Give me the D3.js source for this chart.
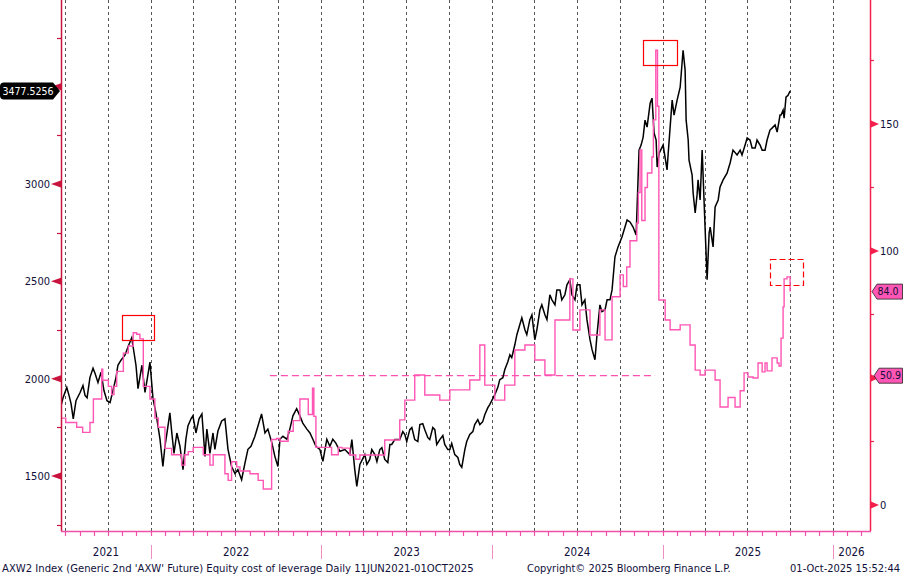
<!DOCTYPE html>
<html><head><meta charset="utf-8">
<script src="https://cdn.jsdelivr.net/npm/d3@7/dist/d3.min.js"></script>
<style>body{margin:0;background:#fff}svg{display:block}</style>
</head><body>
<svg id="chart" width="903" height="576"></svg>
<script>
// ---- data (dates as decimal years) ----
const priceDates = [2021.472,2021.484,2021.506,2021.519,2021.531,2021.544,2021.560,2021.584,2021.601,2021.613,2021.625,2021.642,2021.660,2021.672,2021.689,2021.707,2021.724,2021.742,2021.760,2021.777,2021.795,2021.806,2021.824,2021.848,2021.865,2021.887,2021.900,2021.912,2021.924,2021.935,2021.947,2021.965,2021.977,2021.994,
2022.012,2022.029,2022.041,2022.053,2022.070,2022.082,2022.094,2022.111,2022.123,2022.135,2022.152,2022.170,2022.188,2022.205,2022.217,2022.235,2022.246,2022.264,2022.282,2022.299,2022.317,2022.328,2022.346,2022.364,2022.375,2022.393,2022.415,2022.434,2022.452,2022.473,2022.493,2022.510,2022.532,2022.551,2022.569,2022.587,2022.610,2022.628,2022.649,2022.669,2022.686,2022.710,2022.727,2022.745,2022.757,2022.774,2022.798,2022.815,2022.833,2022.855,2022.874,2022.891,2022.915,2022.933,2022.950,2022.968,2022.991,
2023.009,2023.032,2023.050,2023.067,2023.085,2023.109,2023.138,2023.167,2023.179,2023.196,2023.208,2023.226,2023.255,2023.267,2023.284,2023.296,2023.314,2023.326,2023.343,2023.355,2023.372,2023.390,2023.402,2023.413,2023.431,2023.460,2023.478,2023.490,2023.501,2023.519,2023.531,2023.548,2023.566,2023.578,2023.595,2023.607,2023.625,2023.636,2023.654,2023.666,2023.677,2023.695,2023.713,2023.724,2023.742,2023.754,2023.765,2023.783,2023.801,2023.812,2023.824,2023.842,2023.853,2023.871,2023.889,2023.900,2023.918,2023.930,2023.947,2023.959,2023.977,2023.988,
2024.018,2024.035,2024.047,2024.065,2024.076,2024.094,2024.106,2024.117,2024.135,2024.147,2024.164,2024.176,2024.194,2024.205,2024.223,2024.235,2024.252,2024.264,2024.282,2024.293,2024.311,2024.323,2024.340,2024.352,2024.370,2024.381,2024.399,2024.410,2024.428,2024.440,2024.457,2024.469,2024.487,2024.499,2024.516,2024.528,2024.545,2024.557,2024.575,2024.587,2024.604,2024.616,2024.633,2024.645,2024.663,2024.675,2024.692,2024.704,2024.721,2024.739,2024.762,2024.792,2024.809,2024.827,2024.845,2024.862,2024.874,2024.886,2024.897,2024.909,2024.927,2024.938,2024.950,2024.962,2024.968,2024.980,
2025.003,2025.026,2025.032,2025.044,2025.056,2025.067,2025.085,2025.103,2025.114,2025.120,2025.132,2025.138,2025.150,2025.155,2025.173,2025.179,2025.191,2025.202,2025.208,2025.220,2025.232,2025.243,2025.249,2025.261,2025.273,2025.279,2025.290,2025.296,2025.308,2025.326,2025.337,2025.355,2025.378,2025.396,2025.413,2025.437,2025.455,2025.466,2025.484,2025.496,2025.513,2025.525,2025.543,2025.554,2025.572,2025.584,2025.601,2025.613,2025.630,2025.642,2025.660,2025.672,2025.689,2025.695,2025.707,2025.713,2025.724,2025.736,2025.748];
const priceValues = [1861,1902,1955,1914,1872,1794,1887,1929,1965,1914,1902,2007,2054,2027,1981,2033,1939,1887,1877,1939,2007,2069,2095,2122,2163,2210,2137,2069,1949,2007,2069,1929,1992,2085,
1897,1824,1757,1689,1549,1653,1721,1824,1716,1616,1721,1653,1533,1689,1757,1794,1809,1721,1794,1819,1601,1741,1616,1721,1637,1731,1783,1794,1637,1549,1513,1533,1481,1564,1637,1653,1704,1757,1819,1721,1741,1669,1601,1549,1689,1704,1689,1741,1809,1846,1809,1772,1741,1721,1689,1653,1637,
1575,1689,1653,1689,1669,1627,1636,1610,1687,1533,1446,1559,1610,1559,1585,1636,1610,1574,1636,1646,1585,1569,1662,1662,1687,1687,1728,1713,1677,1738,1749,1687,1677,1764,1769,1738,1697,1687,1749,1738,1662,1687,1708,1662,1636,1636,1667,1610,1595,1559,1544,1636,1677,1713,1728,1764,1790,1764,1779,1815,1851,1867,
1918,1954,1995,2005,2046,2087,2123,2108,2174,2226,2277,2313,2251,2226,2303,2328,2200,2251,2354,2379,2328,2303,2431,2405,2379,2456,2456,2405,2431,2482,2508,2431,2405,2482,2482,2379,2405,2303,2200,2149,2097,2226,2379,2344,2354,2405,2405,2456,2626,2677,2728,2815,2805,2779,2738,3174,3200,3241,3328,3292,3415,3441,3262,3226,3087,3159,
3200,3072,3149,3292,3431,3354,3431,3497,3620,3687,3585,3328,3226,3123,3046,2954,2851,2944,3021,2918,3174,2918,2779,2508,2749,2779,2713,2677,2882,2918,2985,3021,3056,3108,3174,3149,3174,3149,3200,3236,3226,3185,3185,3226,3200,3174,3174,3226,3277,3287,3303,3267,3354,3354,3379,3338,3446,3456,3477.5256];

const costDates = [2021.472,2021.500,2021.564,2021.599,2021.642,2021.662,2021.711,2021.717,2021.750,2021.769,2021.783,2021.799,2021.838,2021.867,2021.896,2021.916,2021.935,2021.955,2021.994,
2022.023,2022.043,2022.082,2022.121,2022.180,2022.199,2022.219,2022.248,2022.307,2022.346,2022.365,2022.434,2022.453,2022.473,2022.503,2022.522,2022.581,2022.629,2022.659,2022.708,2022.737,2022.757,2022.805,2022.835,2022.874,2022.923,2022.948,2022.956,2022.968,
2023.060,2023.099,2023.120,2023.167,2023.202,2023.226,2023.372,2023.460,2023.490,2023.548,2023.607,2023.695,2023.754,2023.871,2023.930,2023.959,
2024.018,2024.076,2024.135,2024.194,2024.252,2024.311,2024.370,2024.457,2024.475,2024.516,2024.575,2024.633,2024.663,2024.704,2024.751,2024.770,2024.790,2024.809,2024.849,2024.858,2024.868,2024.878,2024.897,2024.911,2024.937,2024.946,2024.960,2024.970,2024.978,
2025.015,2025.044,2025.103,2025.161,2025.191,2025.220,2025.249,2025.308,2025.337,2025.384,2025.425,2025.455,2025.478,2025.501,2025.531,2025.560,2025.584,2025.601,2025.613,2025.642,2025.672,2025.683,2025.695,2025.707,2025.713,2025.730,2025.748];
const costValues = [34.2,32.5,30.6,28.6,32.5,41.7,53.5,49.1,46.7,43.5,46.7,52.6,59.8,62.6,67.8,67.2,65.4,46.7,41.7,
34.2,30.6,22.3,19.8,15.7,19.8,21.0,22.7,19.8,15.7,19.8,12.3,9.7,17.0,15.0,13.4,12.3,9.7,6.3,25.8,26.2,25.1,29.0,33.2,41.7,35.6,46.0,34.9,22.7,
19.8,22.7,22.4,19.7,18.0,19.7,25.6,33.5,41.3,51.2,43.3,41.3,45.3,49.2,63.0,47.2,
41.3,47.2,61.0,63.0,57.1,51.2,72.8,89.0,68.9,76.8,66.9,76.8,65.0,82.0,90.6,86.0,93.7,104.0,111.0,123.0,139.8,112.0,125.0,130.7,137.0,151.6,179.0,157.0,80.7,
72.8,69.0,70.9,63.0,53.1,51.2,53.1,49.2,38.6,42.3,38.6,45.0,52.0,50.4,50.0,55.9,52.4,55.9,52.8,57.9,55.9,54.7,65.7,78.0,89.0,89.8,84.0];

const leftTickValues = [1500,2000,2500,3000,3500];
const leftMinorValues = [1250,1750,2250,2750,3250,3750];
const rightTickValues = [0,50,100,150];
const rightTickLabels = ["0","","100","150"];   // the 50 label sits under the 50.9 marker
const rightMinorValues = [25,75,125,175];
const yearLabels = ["2021","2022","2023","2024","2025","2026"];
const lastPrice = 3477.5256, lastPriceText = "3477.5256";
const lastCost = 84.0, lastCostText = "84.0";
const refLevel = 50.9, refLevelText = "50.9";
const refSpan = [2022.698, 2024.956];
const boxStarts = [2021.830, 2024.886, 2025.630];
const boxEnds   = [2022.018, 2025.085, 2025.824];
const boxTops   = [74.8, 183.1, 96.9];
const boxBottoms= [65.0, 173.2, 86.6];
const boxDashed = [false, false, true];
const footerLeft = "AXW2 Index (Generic 2nd 'AXW' Future) Equity cost of leverage Daily 11JUN2021-01OCT2025";
const footerMid = "Copyright\u00A9 2025 Bloomberg Finance L.P.";
const footerRight = "01-Oct-2025 15:52:44";

// ---- helpers ----
function toDate(t){const y=Math.floor(t);const s=Date.UTC(y,0,1),e=Date.UTC(y+1,0,1);return new Date(s+(t-y)*(e-s));}

const L=61, R=870, T=0, B=531;
const svg=d3.select("#chart");
const x=d3.scaleUtc().domain([toDate(2021.472),toDate(2026.217)]).range([L,R]);
const yL=d3.scaleLinear().domain([1217.5,3945.2]).range([B,T]);
const yR=d3.scaleLinear().domain([-10.24,198.8]).range([B,T]);
const font="'DejaVu Sans Condensed','DejaVu Sans',sans-serif";
const txtCol="#10103a";

// quarterly dotted grid
const quarters=d3.utcMonth.every(3).range(toDate(2021.472),toDate(2026.217));
svg.append("g").selectAll("line").data(quarters).join("line")
  .attr("x1",d=>Math.round(x(d))+0.5).attr("x2",d=>Math.round(x(d))+0.5)
  .attr("y1",T).attr("y2",B).attr("stroke","#555").attr("stroke-width",1).attr("stroke-dasharray","3,3");

// clip
svg.append("clipPath").attr("id","clip").append("rect").attr("x",L).attr("y",T).attr("width",R-L).attr("height",B-T);
const plot=svg.append("g").attr("clip-path","url(#clip)");

// reference dashed line
plot.append("line").attr("x1",x(toDate(refSpan[0]))).attr("x2",x(toDate(refSpan[1])))
  .attr("y1",yR(refLevel)).attr("y2",yR(refLevel)).attr("stroke","#ff4fb0").attr("stroke-width",1.2).attr("stroke-dasharray","7,4");

// price line
const priceData=priceDates.map((d,i)=>({d:toDate(d),v:priceValues[i]})).sort((a,b)=>a.d-b.d);
plot.append("path").datum(priceData).attr("fill","none").attr("stroke","#000").attr("stroke-width",1.5)
  .attr("d",d3.line().x(p=>x(p.d)).y(p=>yL(p.v)));

// cost step line
const costData=costDates.map((d,i)=>({d:toDate(d),v:costValues[i]})).sort((a,b)=>a.d-b.d);
plot.append("path").datum(costData).attr("fill","none").attr("stroke","#ff55b4").attr("stroke-width",1.4)
  .attr("d",d3.line().curve(d3.curveStepAfter).x(p=>x(p.d)).y(p=>yR(p.v)));

// annotation boxes
boxStarts.forEach((s,i)=>{
  const x0=x(toDate(s)),x1=x(toDate(boxEnds[i])),y0=yR(boxTops[i]),y1=yR(boxBottoms[i]);
  svg.append("rect").attr("x",Math.round(x0)+0.5).attr("y",Math.round(y0)+0.5)
    .attr("width",Math.round(x1-x0)).attr("height",Math.round(y1-y0))
    .attr("fill","none").attr("stroke","#f00").attr("stroke-width",1.2)
    .attr("stroke-dasharray",boxDashed[i]?"6,3":null);
});

// left axis
svg.append("line").attr("x1",L+0.5).attr("x2",L+0.5).attr("y1",T).attr("y2",B).attr("stroke","#c8143c").attr("stroke-width",1.5);
svg.append("g").selectAll("line").data(leftMinorValues).join("line")
  .attr("x1",L-4).attr("x2",L).attr("y1",d=>Math.round(yL(d))+0.5).attr("y2",d=>Math.round(yL(d))+0.5)
  .attr("stroke","#c8143c").attr("stroke-width",1.2);
svg.append("g").selectAll("path").data(leftTickValues).join("path")
  .attr("d",d=>{const y=yL(d);return `M${L-10},${y} L${L},${y-3.5} L${L},${y+3.5} Z`;}).attr("fill","#c8143c");
svg.append("g").selectAll("text").data(leftTickValues).join("text")
  .attr("x",L-11).attr("y",d=>yL(d)).attr("dy","0.35em").attr("text-anchor","end")
  .attr("font-family",font).attr("font-size",11).attr("fill",txtCol).text(d=>d);

// right axis
svg.append("line").attr("x1",R+0.5).attr("x2",R+0.5).attr("y1",T).attr("y2",B).attr("stroke","#f4204c").attr("stroke-width",1.5);
svg.append("g").selectAll("line").data(rightMinorValues).join("line")
  .attr("x1",R).attr("x2",R+4).attr("y1",d=>Math.round(yR(d))+0.5).attr("y2",d=>Math.round(yR(d))+0.5)
  .attr("stroke","#f4204c").attr("stroke-width",1.2);
svg.append("g").selectAll("path").data(rightTickValues).join("path")
  .attr("d",d=>{const y=yR(d);return `M${R+9},${y} L${R+1},${y-3.5} L${R+1},${y+3.5} Z`;}).attr("fill","#f4204c");
svg.append("g").selectAll("text").data(rightTickValues).join("text")
  .attr("x",R+10).attr("y",d=>yR(d)).attr("dy","0.35em")
  .attr("font-family",font).attr("font-size",11).attr("fill",txtCol).text((d,i)=>rightTickLabels[i]);

// bottom axis
svg.append("line").attr("x1",L).attr("x2",R+1).attr("y1",B+0.5).attr("y2",B+0.5).attr("stroke","#f050a8").attr("stroke-width",1.6);
const months=d3.utcMonth.range(toDate(2021.472),toDate(2026.217));
svg.append("g").selectAll("line").data(months).join("line")
  .attr("x1",d=>Math.round(x(d))+0.5).attr("x2",d=>Math.round(x(d))+0.5).attr("y1",B).attr("y2",B+5)
  .attr("stroke","#f050a8").attr("stroke-width",1.2);
const yearStarts=yearLabels.map(y=>new Date(Date.UTC(+y,0,1)));
svg.append("g").selectAll("line").data(yearStarts.slice(1)).join("line")
  .attr("x1",d=>Math.round(x(d))+0.5).attr("x2",d=>Math.round(x(d))+0.5).attr("y1",545).attr("y2",559)
  .attr("stroke","#f48cc4").attr("stroke-width",1);
const [d0,d1]=x.domain();
svg.append("g").selectAll("text").data(yearLabels).join("text")
  .attr("x",(y,i)=>{const a=new Date(Math.max(+d0,+yearStarts[i]));const b=new Date(Math.min(+d1,Date.UTC(+y+1,0,1)));return (x(a)+x(b))/2;})
  .attr("y",552).attr("dy","0.35em").attr("text-anchor","middle")
  .attr("font-family",font).attr("font-size",11.5).attr("fill",txtCol).text(d=>d);

// last value labels
{
  const y=yL(lastPrice);
  svg.append("path").attr("d",`M4,${y-8.5} H53 L60,${y} L53,${y+8.5} H4 Q0,${y+8.5} 0,${y+4.5} V${y-4.5} Q0,${y-8.5} 4,${y-8.5} Z`).attr("fill","#000");
  svg.append("text").attr("x",2.5).attr("y",y).attr("dy","0.36em").attr("font-family",font).attr("font-size",10.5).attr("fill","#fff").text(lastPriceText);
}
{
  const y=yR(lastCost);
  svg.append("path").attr("d",`M${R+2},${y} L${R+7},${y-7.5} H902.5 V${y+7.5} H${R+7} Z`).attr("fill","#ff55b4").attr("stroke","#222").attr("stroke-width",0.8);
  svg.append("text").attr("x",R+7.5).attr("y",y).attr("dy","0.36em").attr("font-family",font).attr("font-size",10.5).attr("fill",txtCol).text(lastCostText);
}
{
  const y=yR(refLevel);
  svg.append("path").attr("d",`M${R+4},${y} L${R+9},${y-7.5} H902.5 V${y+7.5} H${R+9} Z`).attr("fill","#ff55b4").attr("stroke","#222").attr("stroke-width",0.8);
  svg.append("text").attr("x",R+10).attr("y",y).attr("dy","0.36em").attr("font-family",font).attr("font-size",10.5).attr("fill",txtCol).text(refLevelText);
}

// footer
svg.append("text").attr("x",2).attr("y",572).attr("font-family",font).attr("font-size",11.2).attr("fill",txtCol).text(footerLeft);
svg.append("text").attr("x",527).attr("y",572).attr("font-family",font).attr("font-size",11).attr("fill",txtCol).text(footerMid);
svg.append("text").attr("x",900).attr("y",572).attr("text-anchor","end").attr("font-family",font).attr("font-size",11).attr("fill",txtCol).text(footerRight);
</script>
</body></html>
